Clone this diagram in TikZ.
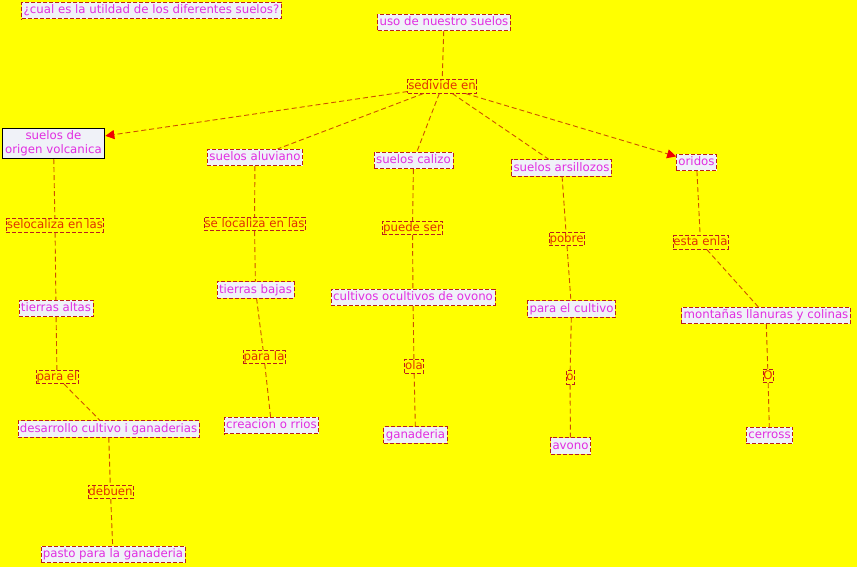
\documentclass[tikz,border=0pt]{standalone}
\usepackage{fontspec}
\setmainfont{DejaVu Sans}
\usetikzlibrary{arrows.meta}
\definecolor{bg}{RGB}{255,255,0}
\definecolor{cfill}{RGB}{240,242,248}
\definecolor{ctext}{RGB}{225,45,225}
\definecolor{ltext}{RGB}{225,50,0}
\definecolor{bord}{RGB}{185,30,30}
\definecolor{conn}{RGB}{205,80,0}
\definecolor{arr}{RGB}{240,0,0}
\tikzset{
  concept/.style={draw=bord, dash pattern=on 4bp off 2bp, fill=cfill, text=ctext, inner xsep=2bp, inner ysep=2bp, text height=9.5bp, text depth=3bp, font=\fontsize{11.8}{14}\selectfont, line width=0.7bp},
  linking/.style={draw=bord, dash pattern=on 4bp off 2bp, fill=bg, text=ltext, inner xsep=0.5bp, inner ysep=0.5bp, text height=9.5bp, text depth=3bp, font=\fontsize{11.8}{14}\selectfont, line width=0.7bp},
  conline/.style={draw=conn, dash pattern=on 5bp off 3bp, line width=0.9bp},
  arrline/.style={conline, -{Triangle[length=9bp,width=9bp,fill=arr,color=arr]}},
}
\begin{document}
\begin{tikzpicture}[x=1bp,y=-1bp]
\fill[bg] (0,0) rectangle (857,567);
\useasboundingbox (0,0) rectangle (857,567);

\node[concept] (q) at (151.5,10.5) {¿cual es la utildad de los diferentes suelos?};
\node[concept] (uso) at (444,22.5) {uso de nuestro suelos};
\node[linking] (sed) at (442,86.5) {sedivide en};

\node[concept, draw=black, solid, line width=1bp, align=center, text height=, text depth=, inner ysep=2.5bp, inner xsep=3bp] (volc) at (53.5,143.5) {suelos de\\origen volcanica};
\node[concept] (alu) at (255,157.5) {suelos aluviano};
\node[concept] (cal) at (413.5,160.5) {suelos calizo};
\node[concept] (ars) at (561.5,168) {suelos arsillozos};
\node[concept] (ori) at (696.5,162.5) {oridos};

\node[linking] (l1) at (55,225.5) {selocaliza en las};
\node[linking] (l2) at (254.5,224) {se localiza en las};
\node[linking] (l3) at (412.5,228) {puede ser};
\node[linking] (l4) at (566.5,239) {pobre};
\node[linking] (l5) at (700.5,242.5) {esta enla};

\node[concept] (ta) at (56,308.5) {tierras altas};
\node[concept] (tb) at (255.5,290) {tierras bajas};
\node[concept] (cu) at (413,297.5) {cultivos ocultivos de ovono};
\node[concept] (pc) at (571.5,309) {para el cultivo};
\node[concept] (mo) at (766,315.5) {montañas llanuras y colinas};

\node[linking] (l6) at (57,377) {para el};
\node[linking] (l7) at (264,357) {para la};
\node[linking] (l8) at (414,366.5) {ola};
\node[linking] (l9) at (570,377.5) {o};
\node[linking] (l10) at (768,376) {O};

\node[concept] (de) at (108.5,429) {desarrollo cultivo i ganaderias};
\node[concept] (cr) at (271.5,425.5) {creacion o rrios};
\node[concept] (ga) at (415.5,435) {ganaderia};
\node[concept] (av) at (570.5,446) {avono};
\node[concept] (ce) at (769.5,435.5) {cerross};

\node[linking] (l11) at (110.5,492) {debuen};
\node[concept] (pa) at (113,554.5) {pasto para la ganaderia};

\draw[conline] (uso) -- (sed);
\draw[arrline] (sed) -- (volc);
\draw[conline] (sed) -- (alu);
\draw[conline] (sed) -- (cal);
\draw[conline] (sed) -- (ars);
\draw[arrline] (sed) -- (ori);

\draw[conline] (volc) -- (l1);
\draw[conline] (l1) -- (ta);
\draw[conline] (ta) -- (l6);
\draw[conline] (l6) -- (de);
\draw[conline] (de) -- (l11);
\draw[conline] (l11) -- (pa);

\draw[conline] (alu) -- (l2);
\draw[conline] (l2) -- (tb);
\draw[conline] (tb) -- (l7);
\draw[conline] (l7) -- (cr);

\draw[conline] (cal) -- (l3);
\draw[conline] (l3) -- (cu);
\draw[conline] (cu) -- (l8);
\draw[conline] (l8) -- (ga);

\draw[conline] (ars) -- (l4);
\draw[conline] (l4) -- (pc);
\draw[conline] (pc) -- (l9);
\draw[conline] (l9) -- (av);

\draw[conline] (ori) -- (l5);
\draw[conline] (l5) -- (mo);
\draw[conline] (mo) -- (l10);
\draw[conline] (l10) -- (ce);
\end{tikzpicture}
\end{document}
